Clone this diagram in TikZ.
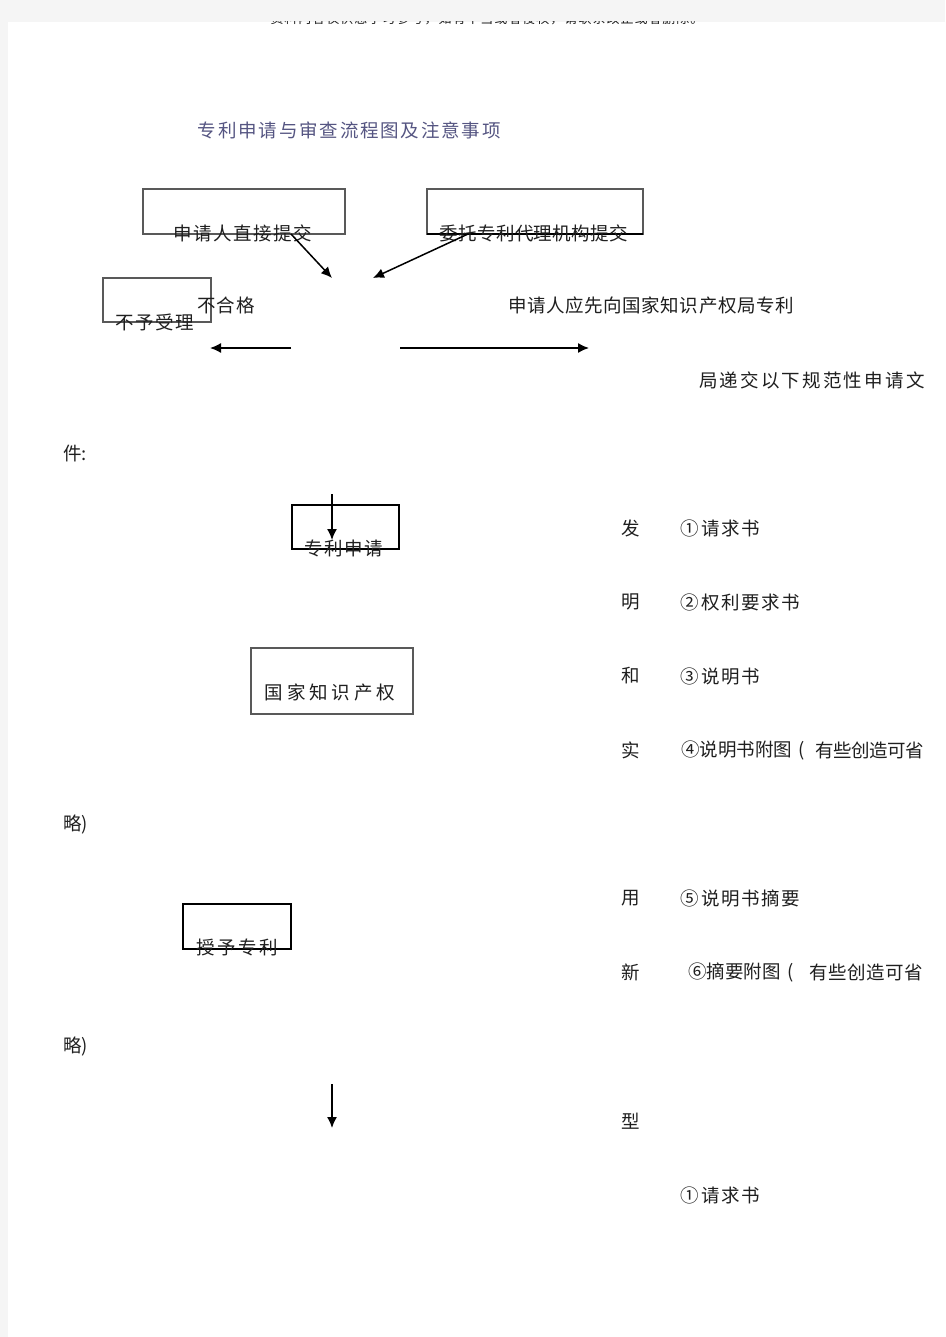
\documentclass[tikz,border=0pt]{standalone}
\usepackage{fontspec}
\newfontfamily\cjk{Noto Sans CJK SC}
\usetikzlibrary{arrows.meta}
\definecolor{titlec}{RGB}{85,85,130}
\newlength\slotw
\def\slotloop#1{\ifx\relax#1\else\makebox[\slotw]{#1}\expandafter\slotloop\fi}
\newcommand\spread[2]{\setlength\slotw{#1pt}\slotloop#2\relax}
\begin{document}
\begin{tikzpicture}[x=1pt,y=-1pt,
  txt/.style={inner sep=0,outer sep=0,anchor=west,font=\cjk\fontsize{18.5}{18.5}\selectfont,text=black!88},
  gbox/.style={draw=black!65,line width=1.2pt,inner sep=0,outer sep=0,anchor=north west},
  kbox/.style={draw=black,line width=1.6pt,inner sep=0,outer sep=0,anchor=north west},
  arr/.style={line width=1.5pt,-{Latex[length=11pt,width=10pt]}}]
\useasboundingbox (0,0) rectangle (945,1337);
\fill[white] (0,0) rectangle (945,1337);
\fill[black!4] (0,0) rectangle (945,22);
\fill[black!4] (0,0) rectangle (8,1337);
\begin{scope}
\clip (8,22) rectangle (945,40);
\node[txt,font=\cjk\fontsize{13}{13}\selectfont] (hdr) at (270,19) {\spread{14}{资料内容仅供您学习参考，如有不当或者侵权，请联系改正或者删除。}};
\end{scope}
% title
\node[txt,text=titlec] (title) at (197,130) {\spread{20.3}{专利申请与审查流程图及注意事项}};
% boxes
\node[gbox,minimum width=202pt,minimum height=45pt] (b1) at (143,189) {};
\node[gbox,minimum width=216pt,minimum height=45pt] (b2) at (427,189) {};
\draw[black,line width=1.2pt] (b2.south west) -- (b2.south east);
\node[gbox,minimum width=108pt,minimum height=44pt] (b3) at (103,278) {};
\node[kbox,minimum width=107pt,minimum height=44pt] (b4) at (292,505) {};
\node[gbox,minimum width=162pt,minimum height=66pt] (b5) at (251,648) {};
\node[kbox,minimum width=108pt,minimum height=45pt] (b6) at (183,904) {};
% texts
\node[txt] (t1) at (173.2,233) {\spread{20}{申请人直接提交}};
\node[txt] (t2) at (439.8,233) {\spread{18.8}{委托专利代理机构提交}};
\node[txt] (t3) at (115.2,322) {\spread{20}{不予受理}};
\node[txt] (t4) at (196.4,305) {\spread{19.7}{不合格}};
\node[txt] (t5) at (507.7,305) {\spread{19.1}{申请人应先向国家知识产权局专利}};
\node[txt] (t6) at (697.9,380) {\spread{20.7}{局递交以下规范性申请文}};
\node[txt] (t7) at (63,454) {件:};
\node[txt] (t8) at (304.2,548) {\spread{20}{专利申请}};
\node[txt] (t9) at (263,692) {\spread{22.3}{国家知识产权}};
\node[txt] (t10) at (63,824) {略)};
\node[txt] (t11) at (195.7,947) {\spread{21}{授予专利}};
\node[txt] (t12) at (63,1046) {略)};
% right column labels
\node[txt] (l1) at (621,528) {发};
\node[txt] (l2) at (621,602) {明};
\node[txt] (l3) at (621,676) {和};
\node[txt] (l4) at (621,750) {实};
\node[txt] (l5) at (621,898) {用};
\node[txt] (l6) at (621,972) {新};
\node[txt] (l7) at (621,1121) {型};
% items
\node[txt] (i1) at (680.1,528) {\spread{20.2}{①请求书}};
\node[txt] (i2) at (680.1,602) {\spread{20.2}{②权利要求书}};
\node[txt] (i3) at (680.1,676) {\spread{20.2}{③说明书}};
\node[txt] (i4a) at (681,750) {\spread{18.5}{④说明书附图(}};
\node[txt] (i4b) at (816.2,750) {\spread{18}{有些创造可省}};
\node[txt] (i5) at (680.1,898) {\spread{20.2}{⑤说明书摘要}};
\node[txt] (i6a) at (688,972) {\spread{18.6}{⑥摘要附图(}};
\node[txt] (i6b) at (808.8,972) {\spread{19}{有些创造可省}};
\node[txt] (i7) at (680.1,1195) {\spread{20.2}{①请求书}};
% arrows
\coordinate (a1s) at (291,234); \coordinate (a1e) at (332,278);
\coordinate (a2s) at (468,234); \coordinate (a2e) at (373,278);
\coordinate (a3s) at (291,348); \coordinate (a3e) at (210,348);
\coordinate (a4s) at (400,348); \coordinate (a4e) at (589,348);
\coordinate (a5s) at (332,494); \coordinate (a5e) at (332,540);
\coordinate (a6s) at (332,1084); \coordinate (a6e) at (332,1128);
\draw[arr] (a1s) -- (a1e);
\draw[arr] (a2s) -- (a2e);
\draw[arr] (a3s) -- (a3e);
\draw[arr] (a4s) -- (a4e);
\draw[arr] (a5s) -- (a5e);
\draw[arr] (a6s) -- (a6e);
\end{tikzpicture}
\end{document}
